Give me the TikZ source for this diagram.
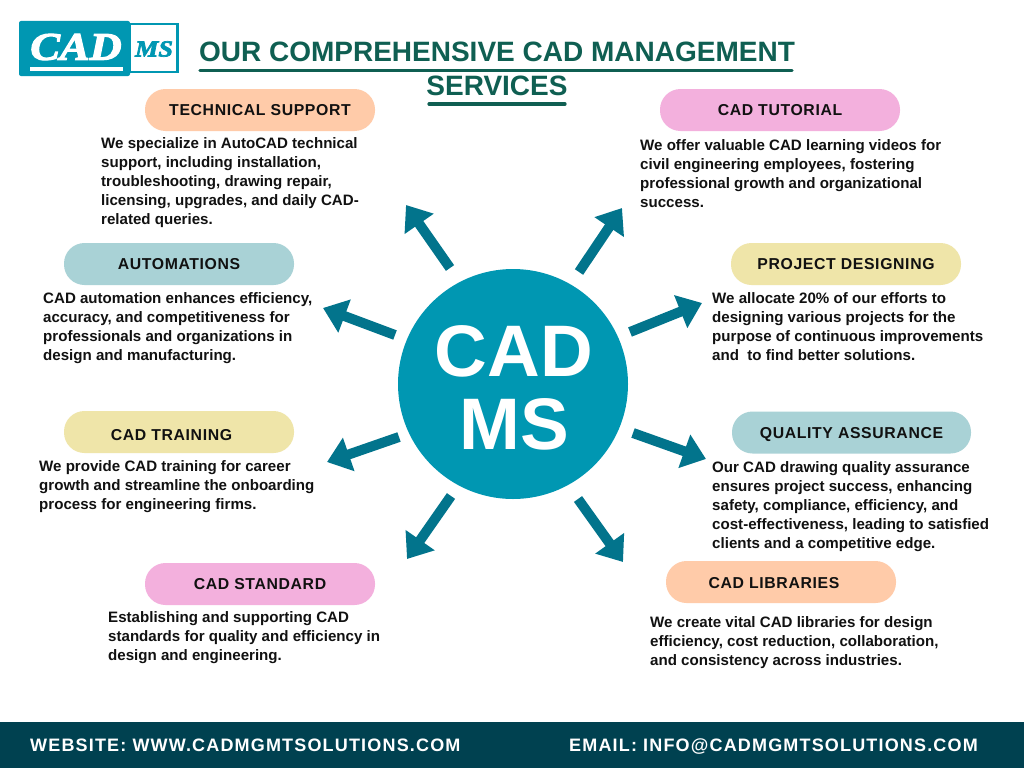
\documentclass[tikz,border=0pt]{standalone}
\usepackage{fontspec}
\setmainfont{Liberation Sans}
\newfontfamily\spacedfont{Liberation Sans}[LetterSpace=6.5]
\newfontfamily\pillfont{Liberation Sans}[LetterSpace=4]
\newfontfamily\logofont{Liberation Serif}[BoldItalicFeatures={FakeBold=3,FakeStretch=1.14}]
\usetikzlibrary{arrows.meta}
\definecolor{hubc}{HTML}{0097B2}
\definecolor{arrowc}{HTML}{02748C}
\definecolor{titlec}{HTML}{0F5F52}
\definecolor{barc}{HTML}{004150}
\definecolor{peach}{HTML}{FFCBA9}
\definecolor{pinkc}{HTML}{F3B0DD}
\definecolor{tealp}{HTML}{A9D2D6}
\definecolor{yellowp}{HTML}{EFE5A9}
\definecolor{inkc}{HTML}{111111}
\tikzset{
  pilltxt/.style={inner sep=0pt,text height=11.5pt,text depth=0pt,font=\pillfont\bfseries\fontsize{15.8}{18}\selectfont,text=inkc},
  pill/.style={pilltxt,rounded corners=20.5pt,minimum width=230pt,minimum height=42pt},
  para/.style={anchor=north west,inner sep=0pt,align=left,font=\bfseries\fontsize{15.1}{19}\selectfont,text=inkc},
  spoke/.style={draw=arrowc,line width=10pt,-{Triangle[length=23pt,width=34pt]}},
  titletxt/.style={inner sep=0pt,text height=20pt,text depth=0pt,text=titlec,font=\bfseries\fontsize{28}{30}\selectfont},
  titlerule/.style={draw=titlec,line width=3.2pt,line cap=round},
  foot/.style={inner sep=0pt,text=white,font=\spacedfont\bfseries\fontsize{18}{20}\selectfont},
}
\begin{document}
\begin{tikzpicture}[x=1pt,y=-1pt]
\useasboundingbox (0,0) rectangle (1024,768);
\fill[white] (0,0) rectangle (1024,768);
% logo
\node[draw=hubc,line width=2.6pt,fill=white,minimum width=48pt,minimum height=48pt,inner sep=0pt] (logoms) at (153.5,48) {};
\node[fill=hubc,rounded corners=2pt,minimum width=111pt,minimum height=55pt,inner sep=0pt] (logocad) at (74.5,48.5) {};
\node[inner sep=0pt,text=white,font=\logofont\bfseries\itshape\fontsize{39}{39}\selectfont] (cadt) at (76,47) {CAD};
\node[inner sep=0pt,text=hubc,font=\logofont\bfseries\itshape\fontsize{23}{23}\selectfont] (mst) at (154,49) {MS};
\fill[white] (30,67) rectangle (123,70.5);
% title
\node[titletxt] (t1) at (497,52) {OUR COMPREHENSIVE CAD MANAGEMENT};
\node[titletxt] (t2) at (497,85) {SERVICES};
\draw[titlerule] (200,70.5) -- (792,70.5);
\draw[titlerule] (429,104) -- (565,104);
% hub
\node[circle,fill=hubc,minimum size=230pt,inner sep=0pt] (hub) at (513,384) {};
\node[inner sep=0pt,text=white,align=center,font=\bfseries\fontsize{73}{73}\selectfont] (hubt) at (514,388) {CAD\\MS};
% arrows
\coordinate (a1s) at (450,268); \coordinate (a1e) at (406,205);
\coordinate (a2s) at (579,272); \coordinate (a2e) at (622,208);
\coordinate (a3s) at (630,332); \coordinate (a3e) at (702,303);
\coordinate (a4s) at (633,433); \coordinate (a4e) at (706,459);
\coordinate (a5s) at (578,499); \coordinate (a5e) at (623,562);
\coordinate (a6s) at (451,496); \coordinate (a6e) at (407,559);
\coordinate (a7s) at (395,335); \coordinate (a7e) at (323,308);
\coordinate (a8s) at (399,437); \coordinate (a8e) at (327,462);
\foreach \n in {1,...,8} {\draw[spoke] (a\n s) -- (a\n e);}
% pills
\node[pill,fill=peach] (p1) at (260,110) {TECHNICAL SUPPORT};
\node[pill,fill=pinkc,minimum width=240pt] (p2) at (780,110) {CAD TUTORIAL};
\node[pill,fill=tealp] (p3) at (179,264) {AUTOMATIONS};
\node[pill,fill=yellowp] (p4) at (846,264) {PROJECT DESIGNING};
\node[pill,fill=yellowp] (p5) at (179,432) {};
\node[pilltxt] (p5t) at (171.5,435) {CAD TRAINING};
\node[pill,fill=tealp,minimum width=239pt] (p6) at (851.5,432.5) {QUALITY ASSURANCE};
\node[pill,fill=pinkc] (p7) at (260,584) {CAD STANDARD};
\node[pill,fill=peach] (p8) at (781,582) {};
\node[pilltxt] (p8t) at (774,583) {CAD LIBRARIES};
% paragraphs
\node[para] (d1) at (101,137) {We specialize in AutoCAD technical\\support, including installation,\\troubleshooting, drawing repair,\\licensing, upgrades, and daily CAD-\\related queries.};
\node[para] (d2) at (640,139) {We offer valuable CAD learning videos for\\civil engineering employees, fostering\\professional growth and organizational\\success.};
\node[para] (d3) at (43,292) {CAD automation enhances efficiency,\\accuracy, and competitiveness for\\professionals and organizations in\\design and manufacturing.};
\node[para] (d4) at (712,292) {We allocate 20\% of our efforts to\\designing various projects for the\\purpose of continuous improvements\\and\ \ to find better solutions.};
\node[para] (d5) at (39,460) {We provide CAD training for career\\growth and streamline the onboarding\\process for engineering firms.};
\node[para] (d6) at (712,461) {Our CAD drawing quality assurance\\ensures project success, enhancing\\safety, compliance, efficiency, and\\cost-effectiveness, leading to satisfied\\clients and a competitive edge.};
\node[para] (d7) at (108,611) {Establishing and supporting CAD\\standards for quality and efficiency in\\design and engineering.};
\node[para] (d8) at (650,616) {We create vital CAD libraries for design\\efficiency, cost reduction, collaboration,\\and consistency across industries.};
% footer
\fill[barc] (0,722) rectangle (1024,768);
\node[foot,anchor=base west] (f1) at (30,751) {WEBSITE: WWW.CADMGMTSOLUTIONS.COM};
\node[foot,anchor=base west] (f2) at (569,751) {EMAIL: INFO@CADMGMTSOLUTIONS.COM};
\end{tikzpicture}
\end{document}
